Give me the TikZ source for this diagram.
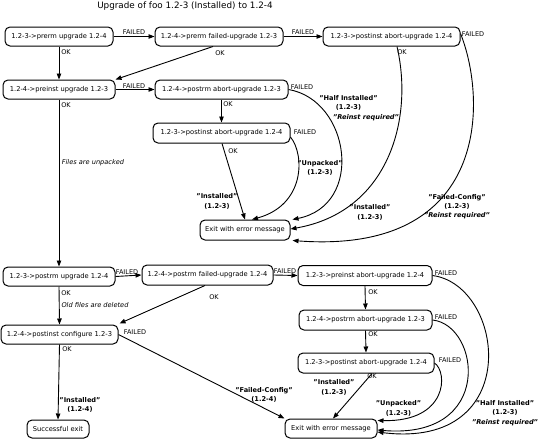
\documentclass[tikz,border=0pt]{standalone}
\usepackage{fontspec}
\setmainfont{DejaVu Sans}
\usetikzlibrary{arrows.meta}
\begin{document}
\begin{tikzpicture}[x=1pt,y=-1pt,
  box/.style={draw, line width=1pt, rounded corners=5pt, minimum height=19pt, inner sep=0pt, font=\fontsize{6.7}{8}\selectfont},
  lab/.style={inner sep=0pt, font=\fontsize{6.5}{8}\selectfont},
  blab/.style={inner sep=0pt, align=center, font=\fontsize{6.6}{9.2}\selectfont\bfseries},
  bilab/.style={inner sep=0pt, font=\fontsize{6.6}{9.2}\selectfont\bfseries\itshape},
  ilab/.style={inner sep=0pt, font=\fontsize{6.6}{8}\selectfont\itshape},
  conn/.style={line width=0.9pt, -{Triangle[length=6pt,width=4.5pt]}},
]
\useasboundingbox (0,0) rectangle (540,439);
\node[inner sep=0pt, font=\fontsize{8.8}{10}\selectfont] (title) at (185,6) {Upgrade of foo 1.2-3 (Installed) to 1.2-4};

% upper part
\node[box, minimum width=108pt] (A1) at (59,36.5) {1.2-3->prerm upgrade 1.2-4};
\node[box, minimum width=128pt] (A2) at (219,36.5) {1.2-4->prerm failed-upgrade 1.2-3};
\node[box, minimum width=137pt] (A3) at (391.5,36.5) {1.2-3->postinst abort-upgrade 1.2-4};
\node[box, minimum width=112pt] (B1) at (59,89.5) {1.2-4->preinst upgrade 1.2-3};
\node[box, minimum width=133pt] (B2) at (221.5,89.5) {1.2-4->postrm abort-upgrade 1.2-3};
\node[box, minimum width=137pt, minimum height=20pt] (B3) at (221.5,133) {1.2-3->postinst abort-upgrade 1.2-4};
\node[box, minimum width=90pt, minimum height=20pt] (E1) at (245,230) {Exit with error message};

% lower part
\node[box, minimum width=112pt] (C1) at (59,276.5) {1.2-3->postrm upgrade 1.2-4};
\node[box, minimum width=131pt, minimum height=20pt] (C2) at (207.5,275) {1.2-4->postrm failed-upgrade 1.2-4};
\node[box, minimum width=134pt, minimum height=20pt] (C3) at (365,275.5) {1.2-3->preinst abort-upgrade 1.2-4};
\node[box, minimum width=133pt, minimum height=20pt] (C4) at (365.5,320) {1.2-4->postrm abort-upgrade 1.2-3};
\node[box, minimum width=136pt, minimum height=20pt] (C5) at (366,363) {1.2-3->postinst abort-upgrade 1.2-4};
\node[box, minimum width=117pt] (D1) at (59.5,334.5) {1.2-4->postinst configure 1.2-3};
\node[box, minimum width=62pt, minimum height=18pt] (S) at (58,429) {Successful exit};
\node[box, minimum width=92pt] (E2) at (331,428.5) {Exit with error message};

% upper connectors
\draw[conn] (A1.east) -- (A2.west);
\draw[conn] (A1.south) -- (B1.north);
\draw[conn] ([xshift=-6pt]A2.south) -- (B1.north east);
\draw[conn] (A2.east) -- (A3.west);
\draw[conn] ([xshift=5.5pt]A3.south) .. controls (414,120) and (388,212) .. ([yshift=1pt]E1.east);
\draw[conn] ([yshift=3pt]A3.east) .. controls (487,100) and (490,255) .. ([xshift=2pt]E1.south east);
\draw[conn] (B1.east) -- (B2.west);
\draw[conn] (B1.south) -- (C1.north);
\draw[conn] (B2.south) -- (B3.north);
\draw[conn] (B2.east) .. controls (350,100) and (365,205) .. ([xshift=2pt]E1.north east);
\draw[conn] ([xshift=0.5pt]B3.south) -- (E1.north);
\draw[conn] ([yshift=-4pt]B3.east) .. controls (305,155) and (305,205) .. ([xshift=7pt]E1.north);

% lower connectors
\draw[conn] (C1.east) -- (C2.west);
\draw[conn] (C1.south) -- (D1.north);
\draw[conn] ([xshift=-2.5pt]C2.south) -- ([xshift=1pt,yshift=1pt]D1.north east);
\draw[conn] (C2.east) -- (C3.west);
\draw[conn] (C3.south) -- (C4.north);
\draw[conn] (C4.south) -- (C5.north);
\draw[conn] (C3.east) .. controls (505,285) and (525,450) .. ([yshift=-3.5pt]E2.east);
\draw[conn] (C4.east) .. controls (480,325) and (495,440) .. ([yshift=-1.5pt]E2.east);
\draw[conn] (C5.east) .. controls (448,372) and (448,422) .. ([yshift=-2pt]E2.north east);
\draw[conn] ([xshift=6pt]C5.south) -- ([xshift=2pt]E2.north);
\draw[conn] (D1.east) -- (E2.north west);
\draw[conn] (D1.south) -- (S.north);

% upper labels
\node[lab] (l1) at (134,32) {FAILED};
\node[lab] (l2) at (66,52) {OK};
\node[lab] (l3) at (220,53) {OK};
\node[lab] (l4) at (303,32) {FAILED};
\node[lab] (l5) at (402,52) {OK};
\node[lab] (l6) at (473,34) {FAILED};
\node[lab] (l7) at (134,86) {FAILED};
\node[lab] (l8) at (66,105) {OK};
\node[ilab] (l9) at (93,163) {Files are unpacked};
\node[lab] (l10) at (228,104) {OK};
\node[lab] (l11) at (302,87) {FAILED};
\node[blab] (l12) at (348.5,103) {"Half Installed"\\(1.2-3)};
\node[bilab] (l12b) at (366,118) {"Reinst required"};
\node[lab] (l13) at (305,132) {FAILED};
\node[lab] (l14) at (233,151) {OK};
\node[blab] (l15) at (320,168) {"Unpacked"\\(1.2-3)};
\node[blab] (l16) at (217,201.5) {"Installed"\\(1.2-3)};
\node[blab] (l17) at (370,212.5) {"Installed"\\(1.2-3)};
\node[blab] (l18) at (457,206.5) {"Failed-Config"\\(1.2-3)\\\textit{"Reinst required"}};

% lower labels
\node[lab] (m1) at (127,272) {FAILED};
\node[lab] (m2) at (66,293) {OK};
\node[ilab] (m3) at (95,305) {Old files are deleted};
\node[lab] (m4) at (214,297) {OK};
\node[lab] (m5) at (285,271) {FAILED};
\node[lab] (m6) at (135,332) {FAILED};
\node[lab] (m7) at (67,349) {OK};
\node[blab] (m8) at (80,405) {"Installed"\\(1.2-4)};
\node[blab] (m9) at (264,395) {"Failed-Config"\\(1.2-4)};
\node[lab] (m10) at (446,273) {FAILED};
\node[lab] (m11) at (373,292) {OK};
\node[lab] (m12) at (446,317) {FAILED};
\node[lab] (m13) at (373,334) {OK};
\node[lab] (m14) at (450,360) {FAILED};
\node[lab] (m15) at (372,376) {OK};
\node[blab] (m16) at (334,387.5) {"Installed"\\(1.2-3)};
\node[blab] (m17) at (398.5,408.5) {"Unpacked"\\(1.2-3)};
\node[blab] (m18) at (505,413) {"Half Installed"\\(1.2-3)\\\textit{"Reinst required"}};
\end{tikzpicture}
\end{document}
